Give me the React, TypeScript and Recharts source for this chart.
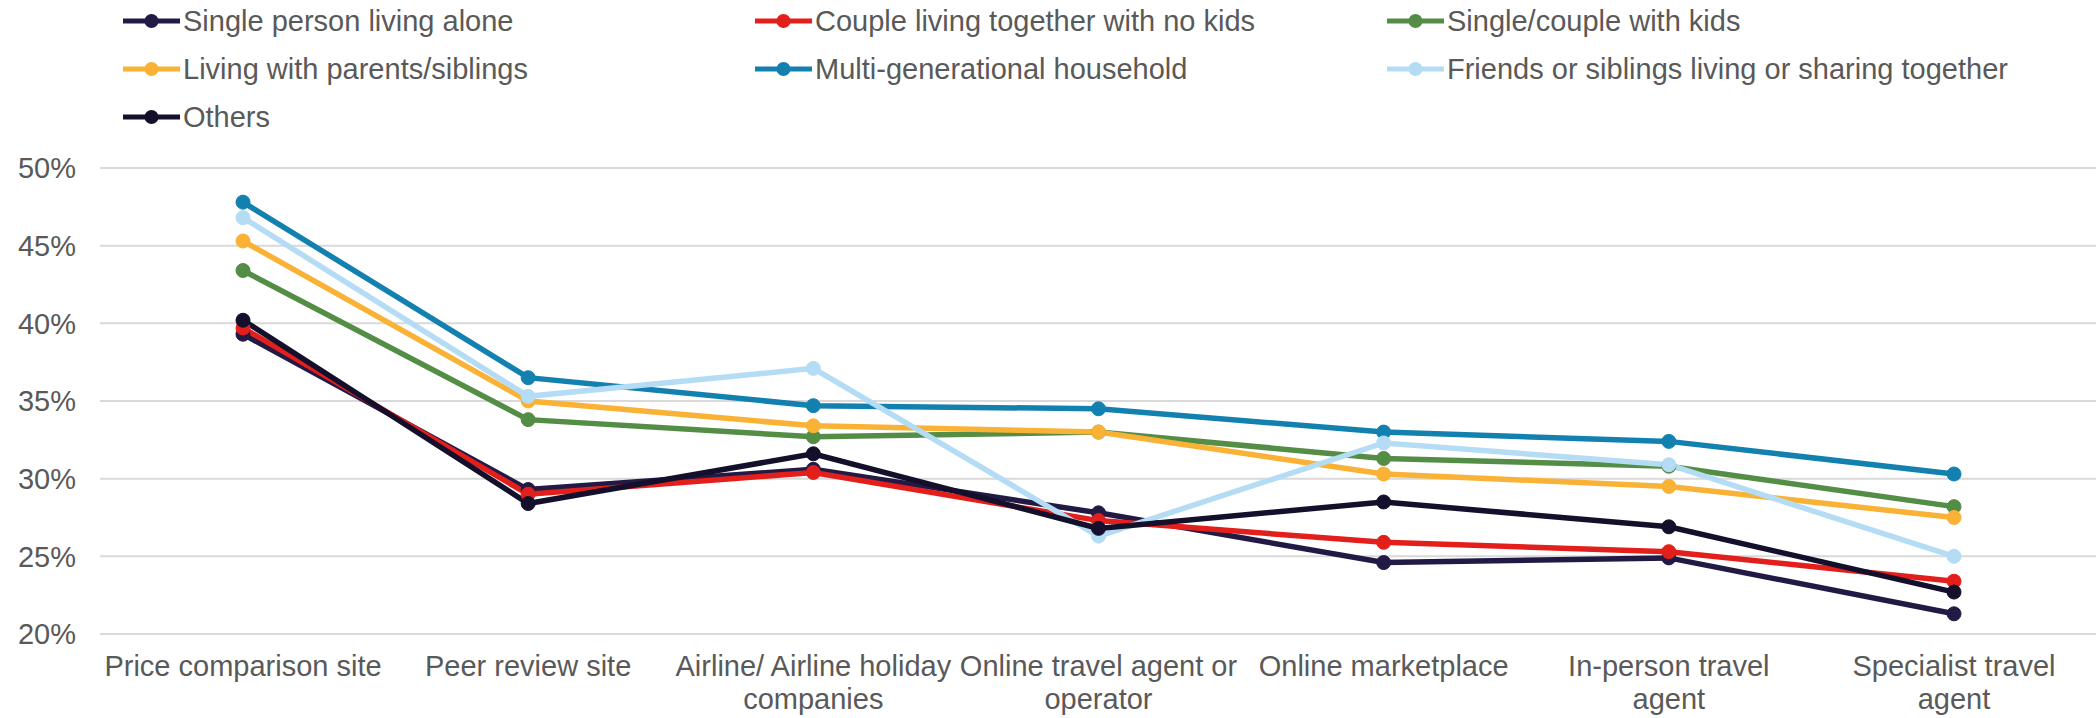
import React from "react";
import { LineChart, Line, XAxis, YAxis, CartesianGrid } from "recharts";

// categories (\n marks where the label wraps)
const CATEGORIES = [
  "Price comparison site",
  "Peer review site",
  "Airline/ Airline holiday\ncompanies",
  "Online travel agent or\noperator",
  "Online marketplace",
  "In-person travel\nagent",
  "Specialist travel\nagent",
];

const SINGLE_ALONE = [39.3, 29.3, 30.6, 27.8, 24.6, 24.9, 21.3];
const COUPLE_NO_KIDS = [39.7, 29.0, 30.4, 27.3, 25.9, 25.3, 23.4];
const WITH_KIDS = [43.4, 33.8, 32.7, 33.0, 31.3, 30.8, 28.2];
const WITH_PARENTS = [45.3, 35.0, 33.4, 33.0, 30.3, 29.5, 27.5];
const MULTI_GEN = [47.8, 36.5, 34.7, 34.5, 33.0, 32.4, 30.3];
const FRIENDS = [46.8, 35.3, 37.1, 26.3, 32.3, 30.9, 25.0];
const OTHERS = [40.2, 28.4, 31.6, 26.8, 28.5, 26.9, 22.7];

const Y_TICKS = [20, 25, 30, 35, 40, 45, 50];

const SERIES = [
  { key: "single", name: "Single person living alone", values: SINGLE_ALONE, color: "#221a45" },
  { key: "couple", name: "Couple living together with no kids", values: COUPLE_NO_KIDS, color: "#e31f1c" },
  { key: "kids", name: "Single/couple with kids", values: WITH_KIDS, color: "#548d45" },
  { key: "parents", name: "Living with parents/siblings", values: WITH_PARENTS, color: "#f9b236" },
  { key: "multi", name: "Multi-generational household", values: MULTI_GEN, color: "#1381b0" },
  { key: "friends", name: "Friends or siblings living or sharing together", values: FRIENDS, color: "#b5dcf5" },
  { key: "others", name: "Others", values: OTHERS, color: "#140f2b" },
];

const data = CATEGORIES.map((name, i) => {
  const row: Record<string, string | number> = { name };
  SERIES.forEach((s) => {
    row[s.key] = s.values[i];
  });
  return row;
});

const FONT = "'Liberation Sans', Arial, sans-serif";
const TEXT = "#595959";

function CategoryTick({ x, y, payload }: any) {
  const lines = String(payload.value).split("\n");
  return (
    <text x={x} y={y} textAnchor="middle" fill={TEXT} fontSize={29} fontFamily={FONT}>
      {lines.map((l, i) => (
        <tspan key={i} x={x} dy={i === 0 ? 42 : 33}>
          {l}
        </tspan>
      ))}
    </text>
  );
}

function LegendBlock() {
  return (
    <div style={{ position: "absolute", left: 0, top: 0, width: 2096, height: 140, fontFamily: FONT }}>
      {SERIES.map((s, i) => {
        const col = i % 3;
        const row = Math.floor(i / 3);
        return (
          <div
            key={s.key}
            style={{
              position: "absolute",
              left: 123 + col * 632,
              top: 21 + row * 48 - 17,
              height: 34,
              display: "flex",
              alignItems: "center",
              whiteSpace: "nowrap",
            }}
          >
            <svg width={57} height={18} style={{ marginRight: 3 }}>
              <line x1={0} y1={9} x2={57} y2={9} stroke={s.color} strokeWidth={5} />
              <circle cx={28.5} cy={9} r={7} fill={s.color} />
            </svg>
            <span style={{ fontSize: 29, color: TEXT }}>{s.name}</span>
          </div>
        );
      })}
    </div>
  );
}

export default function App() {
  return (
    <div style={{ position: "absolute", left: 0, top: 0, width: 2096, height: 718, background: "#fff" }}>
      <LegendBlock />
      <LineChart
        width={2096}
        height={718}
        data={data}
        margin={{ top: 168, right: 0, bottom: 0, left: 0 }}
      >
        <CartesianGrid vertical={false} stroke="#d9d9d9" strokeWidth={2} />
        <XAxis
          dataKey="name"
          axisLine={false}
          tickLine={false}
          tickSize={0}
          tickMargin={0}
          height={84}
          interval={0}
          padding={{ left: 143, right: 142 }}
          tick={<CategoryTick />}
        />
        <YAxis
          domain={[20, 50]}
          ticks={Y_TICKS}
          tickFormatter={(v) => `${v}%`}
          axisLine={false}
          tickLine={false}
          width={100}
          tickMargin={18}
          tick={{ fill: TEXT, fontSize: 29, fontFamily: FONT }}
        />
        {SERIES.map((s) => (
          <Line
            key={s.key}
            dataKey={s.key}
            name={s.name}
            stroke={s.color}
            strokeWidth={5.5}
            type="linear"
            dot={{ r: 7, fill: s.color, stroke: s.color, strokeWidth: 1 }}
            activeDot={false}
            isAnimationActive={false}
          />
        ))}
      </LineChart>
    </div>
  );
}
